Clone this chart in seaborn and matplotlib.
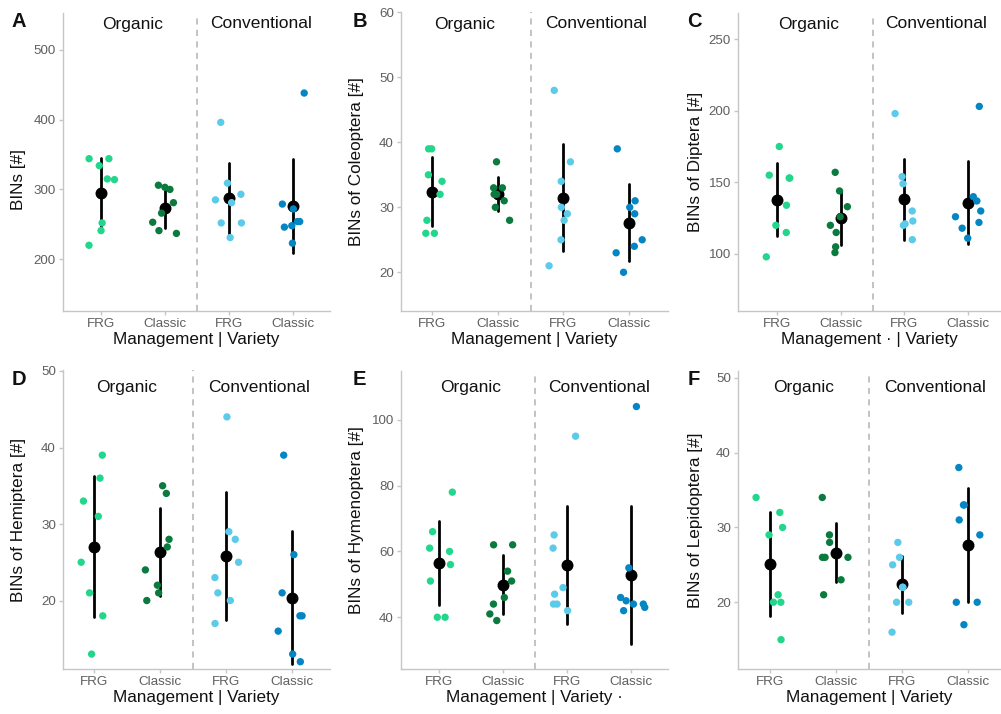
import numpy as np
import pandas as pd
import matplotlib
matplotlib.use("Agg")
import matplotlib.pyplot as plt
import matplotlib.transforms as mtransforms
import seaborn as sns

# ---------------- data ----------------
categories = ["Organic FRG", "Organic Classic", "Conventional FRG", "Conventional Classic"]
tick_labels = ["FRG", "Classic", "FRG", "Classic"]
management = ["Organic", "Conventional"]
panel_letters = ["A", "B", "C", "D", "E", "F"]
y_titles = ["BINs [#]", "BINs of Coleoptera [#]", "BINs of Diptera [#]",
            "BINs of Hemiptera [#]", "BINs of Hymenoptera [#]", "BINs of Lepidoptera [#]"]
x_titles = ["Management | Variety", "Management | Variety", "Management \u00b7 | Variety",
            "Management | Variety", "Management | Variety \u00b7", "Management | Variety"]

bins_all = [
    [344, 344, 334, 315, 314, 252, 241, 220],
    [306, 303, 300, 281, 266, 253, 241, 237],
    [396, 309, 293, 285, 281, 252, 252, 231],
    [438, 279, 272, 254, 254, 248, 246, 223],
]
bins_coleoptera = [
    [39, 39, 35, 34, 32, 28, 26, 26],
    [37, 33, 33, 32, 32, 31, 30, 28],
    [48, 37, 34, 30, 29, 28, 25, 21],
    [39, 31, 30, 29, 25, 24, 23, 20],
]
bins_diptera = [
    [175, 155, 153, 153, 134, 120, 115, 98],
    [157, 144, 133, 126, 120, 115, 105, 101],
    [198, 154, 149, 130, 123, 121, 120, 110],
    [203, 140, 137, 130, 126, 122, 118, 111],
]
bins_hemiptera = [
    [39, 36, 33, 31, 25, 21, 18, 13],
    [35, 34, 28, 27, 24, 22, 21, 20],
    [44, 29, 28, 25, 23, 21, 20, 17],
    [39, 26, 21, 18, 18, 16, 13, 12],
]
bins_hymenoptera = [
    [78, 66, 61, 60, 56, 51, 40, 40],
    [62, 62, 54, 51, 46, 44, 41, 39],
    [95, 65, 61, 49, 47, 44, 44, 42],
    [104, 55, 46, 45, 44, 44, 43, 42],
]
bins_lepidoptera = [
    [34, 32, 30, 29, 21, 20, 20, 15],
    [34, 29, 28, 26, 26, 26, 23, 21],
    [28, 26, 25, 22, 22, 20, 20, 16],
    [38, 33, 33, 31, 29, 20, 20, 17],
]
y_ticks = [[200, 300, 400, 500], [20, 30, 40, 50, 60], [100, 150, 200, 250],
           [20, 30, 40, 50], [40, 60, 80, 100], [20, 30, 40, 50]]

panels = [bins_all, bins_coleoptera, bins_diptera,
          bins_hemiptera, bins_hymenoptera, bins_lepidoptera]

# ---------------- layout / style ----------------
colors = ["#22d68c", "#0a7a3e", "#5ccbea", "#0586c4"]
palette = dict(zip(categories, colors))

W, H = 1001, 714
# axes boxes in pixels: left, top, right, bottom
boxes = [(63, 13, 330, 311), (401, 12, 668, 311), (738, 13, 1001, 311),
         (63, 370, 330, 669), (401, 371, 668, 669), (738, 371, 1001, 669)]
xlims = [(-0.595, 3.584), (-0.477, 3.594), (-0.605, 3.51),
         (-0.465, 3.58), (-0.593, 3.58), (-0.49, 3.506)]
ylims = [(125.9, 552.6), (14.04, 60.06), (60.2, 268.2),
         (11.05, 50.13), (24.28, 114.8), (11.08, 50.9)]
ylab_center_px = [180, 162, 162, 520, 520, 520]
ylab_right_px = [26, 364, 703, 26, 364, 703]
strip_baseline_px = [28.5, 28.5, 28.5, 392, 392, 392]
letter_pos_px = [(11, 27), (353, 27), (687, 27), (12, 385), (353, 385), (688, 385)]

sns.set_style("ticks")
plt.rcParams["font.family"] = ["Liberation Sans", "DejaVu Sans"]

np.random.seed(7)
fig = plt.figure(figsize=(W / 100, H / 100), dpi=100)
spine_col = "#c6c6c6"

for i, values in enumerate(panels):
    l, t, r, b = boxes[i]
    ax = fig.add_axes([l / W, 1 - b / H, (r - l) / W, (b - t) / H])
    df = pd.DataFrame({
        "group": [c for c, v in zip(categories, values) for _ in v],
        "value": [x for v in values for x in v],
    })
    ax.axvline(1.5, color="#b3b3b3", lw=1.1, ls=(0, (4, 3.5)), zorder=0)
    sns.stripplot(data=df, x="group", y="value", hue="group", order=categories,
                  hue_order=categories, palette=palette, jitter=0.22, size=5.3,
                  linewidth=0, legend=False, ax=ax)
    sns.pointplot(data=df, x="group", y="value", order=categories, color="black",
                  errorbar="sd", linestyle="none", markers="o", markersize=8.6,
                  markeredgewidth=0, err_kws={"linewidth": 2.0}, ax=ax)

    ax.set_xlim(*xlims[i])
    ax.set_ylim(*ylims[i])
    ax.set_xticks(range(len(categories)))
    ax.set_xticklabels(tick_labels)
    ax.set_yticks(y_ticks[i])
    ax.set_yticklabels([str(v) for v in y_ticks[i]])

    for s in ["top", "right"]:
        ax.spines[s].set_visible(False)
    for s in ["left", "bottom"]:
        ax.spines[s].set_color(spine_col)
        ax.spines[s].set_linewidth(1.0)
    ax.tick_params(length=2.9, width=1.0, color=spine_col, labelcolor="#5f5f5f",
                   labelsize=9.6, pad=2.2)

    ax.set_xlabel(x_titles[i], fontsize=12.3, color="#111111", labelpad=1.5)
    ax.set_ylabel(y_titles[i], fontsize=12.3, color="#111111")
    ax.yaxis.set_label_coords((ylab_right_px[i] - l) / (r - l),
                              (b - ylab_center_px[i]) / (b - t))

    trans = mtransforms.blended_transform_factory(ax.transData, fig.transFigure)
    yb = 1 - strip_baseline_px[i] / H
    ax.text(0.5, yb, management[0], transform=trans, ha="center", va="baseline",
            fontsize=12.5, color="#111111")
    ax.text(2.5, yb, management[1], transform=trans, ha="center", va="baseline",
            fontsize=12.5, color="#111111")

    lx, ly = letter_pos_px[i]
    fig.text(lx / W, 1 - ly / H, panel_letters[i], ha="left", va="baseline",
             fontsize=14.5, fontweight="bold", color="#111111")

fig.savefig("out.png", dpi=100)
